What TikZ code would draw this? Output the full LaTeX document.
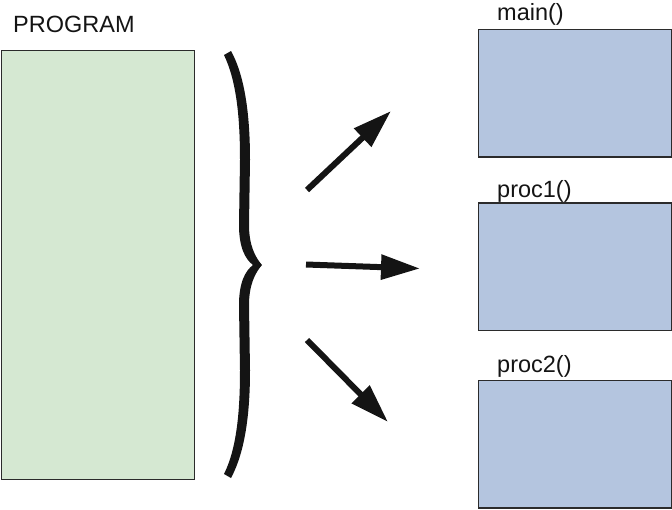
\documentclass[tikz,border=0pt]{standalone}
\usepackage{fontspec}
\setmainfont{Liberation Sans}
\usetikzlibrary{positioning, arrows.meta}
\definecolor{ProgGreen}{HTML}{D5E8D2}
\definecolor{ProcBlue}{HTML}{B4C5DF}
\definecolor{Edge}{HTML}{2B2B2B}
\definecolor{Ink}{HTML}{141414}
\tikzset{
    progbox/.style={rectangle, draw=Edge, line width=1.2pt, fill=ProgGreen, minimum width=193pt, minimum height=429pt, inner sep=0pt},
    procbox/.style={rectangle, draw=Edge, line width=1.2pt, fill=ProcBlue, minimum width=193pt, minimum height=127.5pt, inner sep=0pt},
    tag/.style={anchor=base west, inner sep=0pt, text=Ink, font=\fontsize{23.5}{28}\selectfont},
    fatarrow/.style={-{Triangle[length=39pt, width=24pt]}, line width=6pt, color=Ink},
}
\begin{document}
\begin{tikzpicture}[x=1pt, y=-1pt]
    \useasboundingbox (0,0) rectangle (672,509);
    % program block
    \node[progbox] (prog) at (97.8,264.8) {};
    \node[tag] (progtag) at (13,32) {PROGRAM};
    % procedure blocks
    \node[procbox] (main) at (574.7,93.3) {};
    \node[procbox] (proc1) at (574.7,266.8) {};
    \node[procbox] (proc2) at (574.7,444.3) {};
    \node[tag] (maintag) at (497,20) {main()};
    \node[tag] (proc1tag) at (497,197) {proc1()};
    \node[tag] (proc2tag) at (497,372) {proc2()};
    % brace
    \fill[Ink] (231,51) .. controls (246,78) and (250,120) .. (250,160)
        -- (249,225) .. controls (249,245) and (255,257) .. (262,265)
        .. controls (255,273) and (249,285) .. (249,305)
        -- (250,370) .. controls (250,410) and (246,450) .. (231,478)
        -- (224,474) .. controls (237,448) and (240,410) .. (240,370)
        -- (239,305) .. controls (239,283) and (245,271) .. (253,265)
        .. controls (245,259) and (239,247) .. (239,225)
        -- (240,160) .. controls (240,120) and (237,82) .. (224,55) -- cycle;
    % arrows
    \coordinate (a1s) at (307,190);
    \coordinate (a1e) at (391,111);
    \coordinate (a2s) at (306,264.5);
    \coordinate (a2e) at (420,268.5);
    \coordinate (a3s) at (307,340);
    \coordinate (a3e) at (388,422);
    \draw[fatarrow] (a1s) -- (a1e);
    \draw[fatarrow] (a2s) -- (a2e);
    \draw[fatarrow] (a3s) -- (a3e);
\end{tikzpicture}
\end{document}
